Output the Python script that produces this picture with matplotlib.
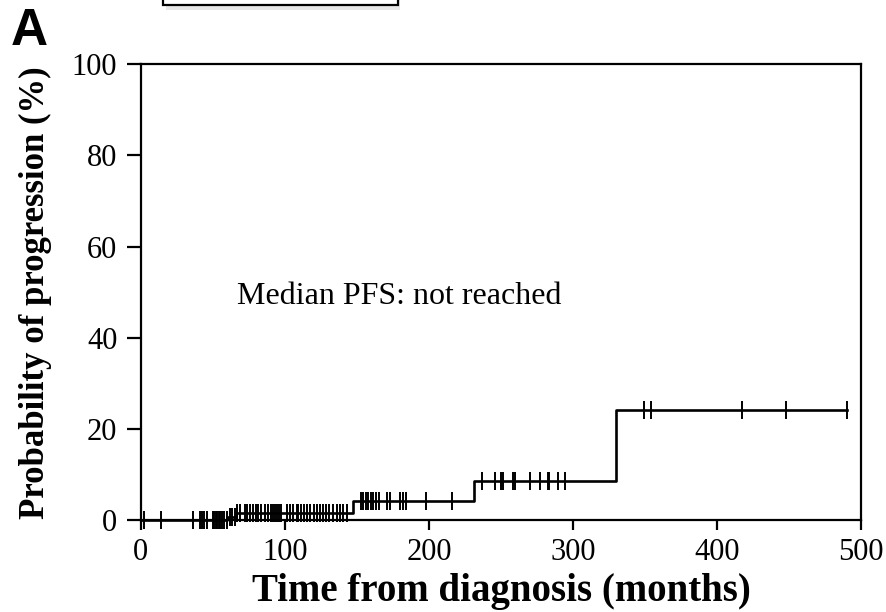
import matplotlib
matplotlib.use("Agg")
import matplotlib.pyplot as plt
import numpy as np
from matplotlib.patches import Rectangle

# step function: event times (months) and cumulative probability (%) after each
step_times = [0, 60, 66, 147.5, 231.5, 329.5]
step_levels = [0, 0.8, 1.6, 4.2, 8.6, 24.1]
end_time = 490

# censored observations (months)
censor_times = [
    0, 2.3, 14, 36, 41, 42.2, 43.8, 46, 50, 51, 52, 53, 54, 55, 56, 57.6, 59.5,
    62, 63.5, 65, 67, 69,
    72.2, 73.8, 75.7, 78, 79.9, 81.5, 83.1, 86.1, 88.4, 90, 91.5, 93, 94.5,
    96, 97.5, 101.2, 103.5, 105.8, 108.1, 109.3, 111.1, 113.2, 115, 117.4,
    120.1, 122.4, 124.3, 126.6, 128.5, 130.8, 133.1, 135.9, 138.2, 140.5, 143.3,
    152.5, 154.4, 156, 157.9, 159.5, 161.4, 163.2, 165, 170.5, 173, 180, 182,
    184, 198, 216,
    237, 246, 250, 251.6, 258.5, 260, 270, 277, 282.4, 283.3, 289.4, 294.4,
    349, 354, 417, 448, 490,
]

plt.rcParams['font.family'] = ['Liberation Serif', 'DejaVu Serif']

fig = plt.figure(figsize=(8.86, 6.12), dpi=100)
ax = fig.add_axes([0.159, 0.150, 0.813, 0.745])

xs = np.array(step_times + [end_time])
ys = np.array(step_levels + [step_levels[-1]])
ax.step(xs, ys, where='post', color='black', lw=1.9, clip_on=False)

ct = np.array(censor_times)
idx = np.searchsorted(step_times, ct, side='right') - 1
cy = np.array(step_levels)[idx]
ax.plot(ct, cy, ls='none', marker='|', ms=13, mew=1.4, color='black', clip_on=False)

ax.set_xlim(0, 500)
ax.set_ylim(0, 100)
ax.set_xticks([0, 100, 200, 300, 400, 500])
ax.set_yticks([0, 20, 40, 60, 80, 100])
ax.tick_params(axis='y', direction='out', length=10, width=1.6, pad=7, labelsize=22)
ax.tick_params(axis='x', direction='out', length=7, width=1.6, pad=6, labelsize=22)
for s in ax.spines.values():
    s.set_linewidth(1.6)

ax.set_xlabel('Time from diagnosis (months)', fontsize=28, fontweight='bold', labelpad=4)
ax.set_ylabel('Probability of progression (%)', fontsize=25, fontweight='bold', labelpad=14)

ax.text(67, 49, 'Median PFS: not reached', fontsize=23, va='center', ha='left')

fig.text(0.012, 0.926, 'A', fontsize=37, fontweight='bold',
         family=['Liberation Sans', 'DejaVu Sans'], va='baseline', ha='left')

# cropped box at the top (partly outside the figure)
fig.patches.append(Rectangle((0.187, 0.983), 0.265, 0.05, transform=fig.transFigure,
                             facecolor='#d8d8d8', edgecolor='none', alpha=0.6))
fig.patches.append(Rectangle((0.184, 0.992), 0.265, 0.05, transform=fig.transFigure,
                             facecolor='white', edgecolor='black', lw=1.6))

fig.savefig('out.png', dpi=100)
